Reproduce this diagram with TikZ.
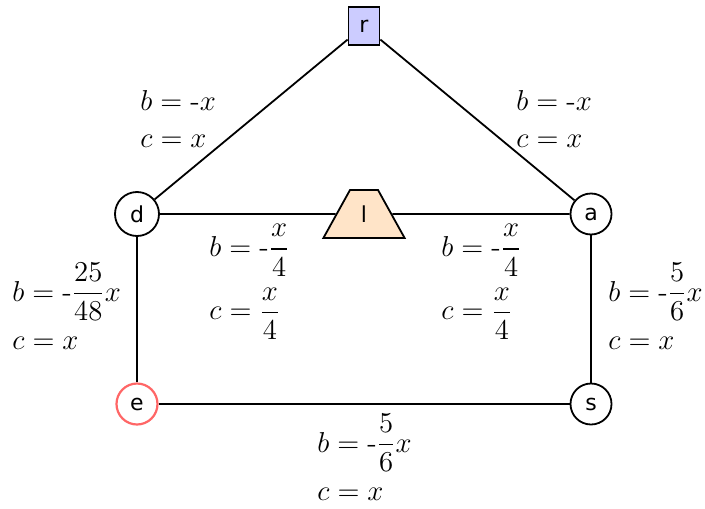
\documentclass[tikz,border=0pt]{standalone}
\usepackage{amsmath}
\usepackage{fontspec}
\usetikzlibrary{shapes.geometric}
\newfontfamily\nodefont{DejaVu Sans}
\definecolor{RootFill}{HTML}{CCCCFF}
\definecolor{LinkFill}{HTML}{FFE4C8}
\definecolor{EntryLine}{HTML}{FF6666}

\begin{document}
\begin{tikzpicture}[
    x=0.5pt,y=-0.5pt,
    vertex/.style={circle,draw=black,line width=0.9pt,fill=white,minimum size=20.5pt,
      inner sep=0pt,font=\nodefont\fontsize{11}{12}\selectfont},
    root/.style={rectangle,draw=black,line width=0.9pt,fill=RootFill,minimum width=15.5pt,
      minimum height=19pt,inner sep=0pt,font=\nodefont\fontsize{11}{12}\selectfont},
    link/.style={trapezium,draw=black,line width=0.9pt,fill=LinkFill,trapezium angle=61,
      text width=14pt,align=center,text height=8pt,text depth=0pt,
      inner xsep=0pt,inner ysep=8pt,font=\nodefont\fontsize{11}{12}\selectfont},
    entry/.style={vertex,draw=EntryLine,line width=1.1pt},
    lbl/.style={anchor=west,align=left,inner sep=0pt,font=\fontsize{14.5}{18}\selectfont},
    edge/.style={line width=0.9pt,draw=black}
  ]
    \useasboundingbox (0,0) rectangle (705,508);
    \node[root] (r) at (364,26) {r};
    \node[vertex,minimum size=22pt] (d) at (137,214) {d};
    \node[vertex] (a) at (591,214) {a};
    \node[link] (l) at (364,214) {l};
    \node[entry] (e) at (137,404) {e};
    \node[vertex] (s) at (591,404) {s};
    \draw[edge] (r) -- (d);
    \draw[edge] (r) -- (a);
    \draw[edge] (d) -- (l);
    \draw[edge] (l) -- (a);
    \draw[edge] (d) -- (e);
    \draw[edge] (a) -- (s);
    \draw[edge] (e) -- (s);
    % flow labels
    \node[lbl] (rd) at (140,119) {$b = \text{-}x$\\$c = x$};
    \node[lbl] (ra) at (516,119) {$b = \text{-}x$\\$c = x$};
    \node[lbl] (dl) at (209,282) {$b = \text{-}\dfrac{x}{4}$\\[5pt]$c = \dfrac{x}{4}$};
    \node[lbl] (la) at (441,282) {$b = \text{-}\dfrac{x}{4}$\\[5pt]$c = \dfrac{x}{4}$};
    \node[lbl] (de) at (12,306) {$b = \text{-}\dfrac{25}{48}x$\\[6pt]$c = x$};
    \node[lbl] (as) at (608,306) {$b = \text{-}\dfrac{5}{6}x$\\[6pt]$c = x$};
    \node[lbl] (es) at (317,457) {$b = \text{-}\dfrac{5}{6}x$\\[6pt]$c = x$};
\end{tikzpicture}
\end{document}
